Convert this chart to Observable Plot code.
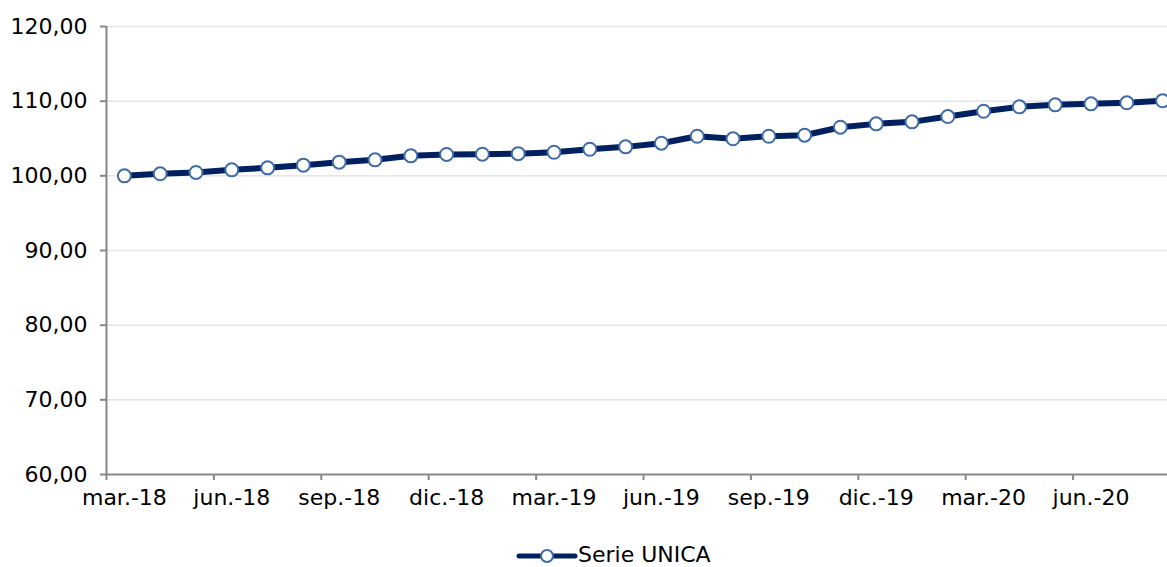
<!DOCTYPE html>
<html>
<head>
<meta charset="utf-8">
<script src="https://cdn.jsdelivr.net/npm/d3@7"></script>
<script src="https://cdn.jsdelivr.net/npm/@observablehq/plot@0.6"></script>
<style>
  html, body { margin: 0; padding: 0; background: #fff; overflow: hidden; }
  #chart svg { display: block; }
  #legend { position: relative; height: 37px; font-family: "DejaVu Sans", Verdana, sans-serif; font-size: 22px; color: #000; }
  #legend svg { position: absolute; left: 516px; top: 16px; }
  #legend span { position: absolute; left: 578px; top: 12px; white-space: nowrap; }
</style>
</head>
<body>
<div id="chart"></div>
<div id="legend"></div>
<script>
const months = ["mar.-18","abr.-18","may.-18","jun.-18","jul.-18","ago.-18","sep.-18","oct.-18","nov.-18","dic.-18",
  "ene.-19","feb.-19","mar.-19","abr.-19","may.-19","jun.-19","jul.-19","ago.-19","sep.-19","oct.-19",
  "nov.-19","dic.-19","ene.-20","feb.-20","mar.-20","abr.-20","may.-20","jun.-20","jul.-20","ago.-20"];
const values = [100.00,100.27,100.45,100.80,101.07,101.43,101.83,102.14,102.68,102.86,
  102.90,102.97,103.16,103.56,103.88,104.37,105.30,104.96,105.30,105.44,
  106.51,106.96,107.23,107.94,108.65,109.24,109.51,109.64,109.78,110.05];
const yTicks = [60,70,80,90,100,110,120];
const seriesName = "Serie UNICA";

const data = months.map((m, i) => ({i, m, v: values[i]}));
const labelIdx = months.map((m, i) => i).filter(i => i % 3 === 0);
const boundaryIdx = labelIdx.map(i => i - 0.5);
const fmt = d => d.toFixed(2).replace(".", ",");

const lineColor = "#002060";
const markerStroke = "#3f6ca8";
const axisColor = "#888888";
const gridColor = "#dde6f1";

const chart = Plot.plot({
  width: 1167,
  height: 530,
  marginLeft: 106,
  marginRight: 0,
  marginTop: 26,
  marginBottom: 56,
  style: {fontFamily: "'DejaVu Sans', Verdana, sans-serif", fontSize: "22px", color: "#000", background: "#fff", overflow: "visible"},
  x: {type: "linear", domain: [-0.5, months.length - 0.5], range: [106, 106 + 35.8 * months.length]},
  y: {domain: [60, 120], ticks: yTicks},
  marks: [
    Plot.ruleY(yTicks.filter(t => t > 60), {stroke: gridColor, strokeWidth: 1.5}),
    Plot.ruleX([-0.5], {y1: 60, y2: 120, stroke: axisColor, strokeWidth: 2}),
    Plot.ruleY([60], {stroke: axisColor, strokeWidth: 2}),
    Plot.axisY({ticks: yTicks, tickFormat: fmt, tickSize: 6, tickPadding: 13, stroke: axisColor, strokeWidth: 2, label: null, fontSize: 22}),
    Plot.axisX({ticks: boundaryIdx, tickFormat: () => "", tickSize: 6, stroke: axisColor, strokeWidth: 2, label: null}),
    Plot.axisX({ticks: labelIdx, tickFormat: i => months[i], tickSize: 0, tickPadding: 15, label: null, fontSize: 22}),
    Plot.line(data, {x: "i", y: "v", stroke: lineColor, strokeWidth: 6, strokeLinejoin: "round"}),
    Plot.dot(data, {x: "i", y: "v", r: 6.5, fill: "#fff", stroke: markerStroke, strokeWidth: 2})
  ]
});
document.getElementById("chart").appendChild(chart);

const legend = document.getElementById("legend");
legend.innerHTML = `<svg width="62" height="20"><line x1="3" y1="10" x2="59" y2="10" stroke="${lineColor}" stroke-width="5" stroke-linecap="round"/><circle cx="31" cy="10" r="6" fill="#fff" stroke="${markerStroke}" stroke-width="2"/></svg><span>${seriesName}</span>`;
</script>
</body>
</html>
